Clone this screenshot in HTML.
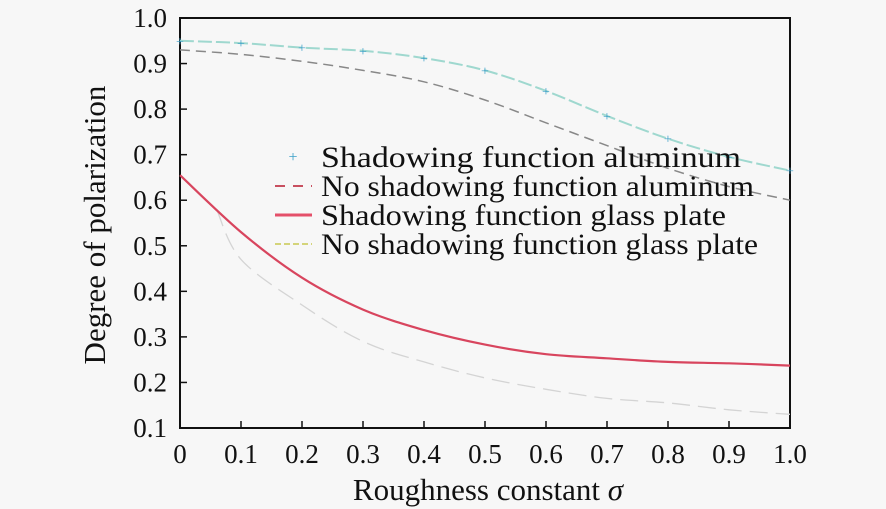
<!DOCTYPE html>
<html><head><meta charset="utf-8"><style>
html,body{margin:0;padding:0;background:#f7f7f7;}
svg{display:block;font-family:"Liberation Serif",serif;}
</style></head><body>
<svg width="886" height="509" viewBox="0 0 886 509">
<g id="plot"></g>
</svg>
<script>
const xTicks=[0,0.1,0.2,0.3,0.4,0.5,0.6,0.7,0.8,0.9,1.0];
const xTickLabels=["0","0.1","0.2","0.3","0.4","0.5","0.6","0.7","0.8","0.9","1.0"];
const yTicks=[0.1,0.2,0.3,0.4,0.5,0.6,0.7,0.8,0.9,1.0];
const yTickLabels=["0.1","0.2","0.3","0.4","0.5","0.6","0.7","0.8","0.9","1.0"];
const sigma=[0,0.1,0.2,0.3,0.4,0.5,0.6,0.7,0.8,0.9,1.0];
const shadowAluminum=[0.95,0.945,0.935,0.928,0.912,0.885,0.84,0.785,0.735,0.695,0.665];
const noShadowAluminum=[0.93,0.92,0.905,0.885,0.86,0.82,0.77,0.72,0.67,0.63,0.60];
const shadowGlass=[0.655,0.53,0.43,0.36,0.315,0.283,0.262,0.253,0.245,0.242,0.237];
const sigmaNoShadowGlass=[0.06,0.1,0.2,0.3,0.4,0.5,0.6,0.7,0.8,0.9,1.0];
const noShadowGlass=[0.58,0.47,0.37,0.29,0.245,0.21,0.185,0.165,0.155,0.14,0.13];

const L=180,R=790,T=18,B=428;
const sx=v=>L+(v-0)/(1-0)*(R-L);
const sy=v=>B-(v-0.1)/(1.0-0.1)*(B-T);
const NS="http://www.w3.org/2000/svg";
const g=document.getElementById('plot');
function mk(tag,attrs,parent){const e=document.createElementNS(NS,tag);for(const k in attrs)e.setAttribute(k,attrs[k]);(parent||g).appendChild(e);return e;}

let fr=mk('rect',{x:L,y:T,width:R-L,height:B-T,fill:'none',stroke:'#111','stroke-width':2});



xTicks.forEach((v,i)=>{
  let t=mk('line',{x1:sx(v),x2:sx(v),y1:B,y2:B-7,stroke:'#111','stroke-width':1.5});
  
  
  let tx=mk('text',{x:sx(v),y:B+35,'text-anchor':'middle','font-size':27,fill:'#111'});
  tx.textContent=xTickLabels[i];
  
  
});
yTicks.forEach((v,i)=>{
  let t=mk('line',{x1:L,x2:L+7,y1:sy(v),y2:sy(v),stroke:'#111','stroke-width':1.5});
  
  
  let tx=mk('text',{x:L-13,y:sy(v)+9,'text-anchor':'end','font-size':27,fill:'#111'});
  tx.textContent=yTickLabels[i];
  
  
});

function path(xs,ys){
  const P=xs.map((x,i)=>[sx(x),sy(ys[i])]);
  let d='M'+P[0][0].toFixed(1)+','+P[0][1].toFixed(1);
  for(let i=0;i<P.length-1;i++){
    const p0=P[Math.max(0,i-1)],p1=P[i],p2=P[i+1],p3=P[Math.min(P.length-1,i+2)];
    const c1=[p1[0]+(p2[0]-p0[0])/6,p1[1]+(p2[1]-p0[1])/6];
    const c2=[p2[0]-(p3[0]-p1[0])/6,p2[1]-(p3[1]-p1[1])/6];
    d+=' C'+c1[0].toFixed(1)+','+c1[1].toFixed(1)+' '+c2[0].toFixed(1)+','+c2[1].toFixed(1)+' '+p2[0].toFixed(1)+','+p2[1].toFixed(1);
  }
  return d;
}
let p1=mk('path',{d:path(sigma,noShadowAluminum),fill:'none',stroke:'#888','stroke-width':1.5,'stroke-dasharray':'10,6'});


let p2=mk('path',{d:path(sigma,shadowAluminum),fill:'none',stroke:'#9fd8cf','stroke-width':2,'stroke-dasharray':'14,4'});


sigma.forEach((x,i)=>{
  let m=mk('text',{x:sx(x),y:sy(shadowAluminum[i])+5,'text-anchor':'middle','font-size':14,fill:'#3a9fc8'});
  m.textContent='+';
  
  
});
let p3=mk('path',{d:path(sigmaNoShadowGlass,noShadowGlass),fill:'none',stroke:'#d4d4d4','stroke-width':1.3,'stroke-dasharray':'18,8'});


let p4=mk('path',{d:path(sigma,shadowGlass),fill:'none',stroke:'#d8455e','stroke-width':2.2});



const legendLabels=["Shadowing function aluminum","No shadowing function aluminum","Shadowing function glass plate","No shadowing function glass plate"];
const legendWidths=[420,433,405,437];
const lg=mk('g',{});


legendLabels.forEach((s,i)=>{
  const y=157+i*29;
  let sw;
  if(i===0){sw=mk('text',{x:293,y:y+5,'text-anchor':'middle','font-size':16,fill:'#3a9fc8'},lg);sw.textContent='+';}
  else if(i===1){sw=mk('line',{x1:275,x2:312,y1:y,y2:y,stroke:'#c85060','stroke-width':2,'stroke-dasharray':'10,8'},lg);}
  else if(i===2){sw=mk('line',{x1:275,x2:312,y1:y,y2:y,stroke:'#e4506a','stroke-width':3},lg);}
  else {sw=mk('line',{x1:275,x2:312,y1:y,y2:y,stroke:'#c8c850','stroke-width':1.5,'stroke-dasharray':'6,3'},lg);}
  
  
  let t=mk('text',{x:321,y:y+10,'font-size':30,fill:'#111',textLength:legendWidths[i],lengthAdjust:'spacingAndGlyphs'},lg);
  t.textContent=s;
  
  
});

let xt=mk('text',{x:488,y:500,'text-anchor':'middle','font-size':31,fill:'#111'});
xt.innerHTML='Roughness constant <tspan font-style="italic">σ</tspan>';


let yt=mk('text',{x:0,y:0,'text-anchor':'middle','font-size':31,fill:'#111',transform:'translate(105,225) rotate(-90)'});
yt.textContent='Degree of polarization';


</script>
</body></html>
